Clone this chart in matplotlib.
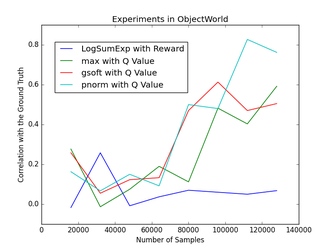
import io
import numpy as np
import matplotlib
matplotlib.use("Agg")
import matplotlib.pyplot as plt
from PIL import Image

plt.style.use("classic")

samples = [16000, 32000, 48000, 64000, 80000, 96000, 112000, 128000]
logsumexp_reward = [-0.017, 0.258, -0.008, 0.037, 0.07, 0.06, 0.05, 0.068]
max_q = [0.277, -0.013, 0.075, 0.19, 0.112, 0.482, 0.403, 0.592]
gsoft_q = [0.258, 0.055, 0.123, 0.133, 0.47, 0.613, 0.47, 0.505]
pnorm_q = [0.163, 0.067, 0.15, 0.092, 0.5, 0.48, 0.827, 0.762]

fig = plt.figure(figsize=(8, 6), dpi=100)
ax = fig.add_subplot(111)

lw = 1.2
ax.plot(samples, logsumexp_reward, "b", lw=lw, label="LogSumExp with Reward")
ax.plot(samples, max_q, "g", lw=lw, label="max with Q Value")
ax.plot(samples, gsoft_q, "r", lw=lw, label="gsoft with Q Value")
ax.plot(samples, pnorm_q, "c", lw=lw, label="pnorm with Q Value")

ax.set_xlim(0, 140000)
ax.set_ylim(-0.1, 0.9)
ax.set_xticks(np.arange(0, 140001, 20000))
ax.set_yticks([0.0, 0.2, 0.4, 0.6, 0.8])
ax.set_title("Experiments in ObjectWorld")
ax.set_xlabel("Number of Samples")
ax.set_ylabel("Correlation with the Ground Truth")
ax.legend(loc="upper left", bbox_to_anchor=(0.052, 0.914), borderaxespad=0)

# draw large, then shrink to the small size of the reference
buf = io.BytesIO()
fig.savefig(buf, format="png", dpi=100)
buf.seek(0)
img = Image.open(buf).convert("RGB")
img = img.resize((332, 249), Image.LANCZOS)
img.save("out.png")
